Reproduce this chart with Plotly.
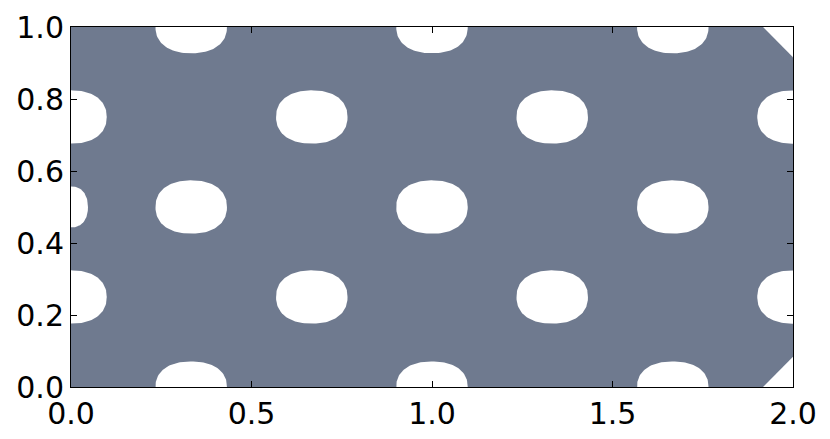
import numpy as np
import plotly.graph_objects as go

FILL_COLOR = "#6f7a8f"

# white holes cut out of the filled region: centre, half width, half height
hole_x = [0.333, 1.0, 1.667,
          0.0, 0.667, 1.333, 2.0,
          0.0, 0.333, 1.0, 1.667,
          0.0, 0.667, 1.333, 2.0,
          0.333, 1.0, 1.667]
hole_y = [1.0, 1.0, 1.0,
          0.75, 0.75, 0.75, 0.75,
          0.5, 0.5, 0.5, 0.5,
          0.25, 0.25, 0.25, 0.25,
          0.0, 0.0, 0.0]
hole_w = [0.099, 0.099, 0.099,
          0.099, 0.099, 0.099, 0.099,
          0.047, 0.099, 0.099, 0.099,
          0.099, 0.099, 0.099, 0.099,
          0.099, 0.099, 0.099]
hole_h = [0.073, 0.073, 0.073,
          0.074, 0.074, 0.074, 0.074,
          0.057, 0.074, 0.074, 0.074,
          0.074, 0.074, 0.074, 0.074,
          0.071, 0.071, 0.071]

# the two right-hand corners are cut off along a 45 degree line
corner_cut_x = 0.083
corner_cut_y = 0.084

x_ticks = [0.0, 0.5, 1.0, 1.5, 2.0]
y_ticks = [0.0, 0.2, 0.4, 0.6, 0.8, 1.0]
x_min, x_max = 0.0, 2.0
y_min, y_max = 0.0, 1.0


def rounded_outline(cx, cy, a, b, power=2.25, n=120):
    t = np.linspace(0, 2 * np.pi, n)
    c, s = np.cos(t), np.sin(t)
    px = cx + a * np.sign(c) * np.abs(c) ** (2 / power)
    py = cy + b * np.sign(s) * np.abs(s) ** (2 / power)
    return px, py


fig = go.Figure()

outer_x = [x_min, x_max - corner_cut_x, x_max, x_max, x_max - corner_cut_x, x_min, x_min]
outer_y = [y_min, y_min, y_min + corner_cut_y, y_max - corner_cut_y, y_max, y_max, y_min]
fig.add_trace(go.Scatter(x=outer_x, y=outer_y, mode="lines", fill="toself",
                         fillcolor=FILL_COLOR, line=dict(width=0, color=FILL_COLOR),
                         hoverinfo="skip", showlegend=False))

for cx, cy, a, b in zip(hole_x, hole_y, hole_w, hole_h):
    px, py = rounded_outline(cx, cy, a, b)
    fig.add_trace(go.Scatter(x=px, y=py, mode="lines", fill="toself",
                             fillcolor="white", line=dict(width=0, color="white"),
                             hoverinfo="skip", showlegend=False))

axis_style = dict(
    showgrid=False, zeroline=False, automargin=False,
    showline=True, linecolor="black", linewidth=1, mirror="ticks",
    ticks="inside", ticklen=6, tickwidth=1, tickcolor="black",
    tickformat=".1f",
    tickfont=dict(family="DejaVu Sans", size=30, color="black"),
)

fig.update_xaxes(range=[x_min, x_max], tickvals=x_ticks, **axis_style)
fig.update_yaxes(range=[y_min, y_max], tickvals=y_ticks, **axis_style)

# the page body adds 8px around the figure
fig.update_layout(
    width=830, height=439,
    margin=dict(l=63, r=45, t=19, b=60),
    paper_bgcolor="white", plot_bgcolor="white",
    showlegend=False,
)

fig.write_html("out.html")
